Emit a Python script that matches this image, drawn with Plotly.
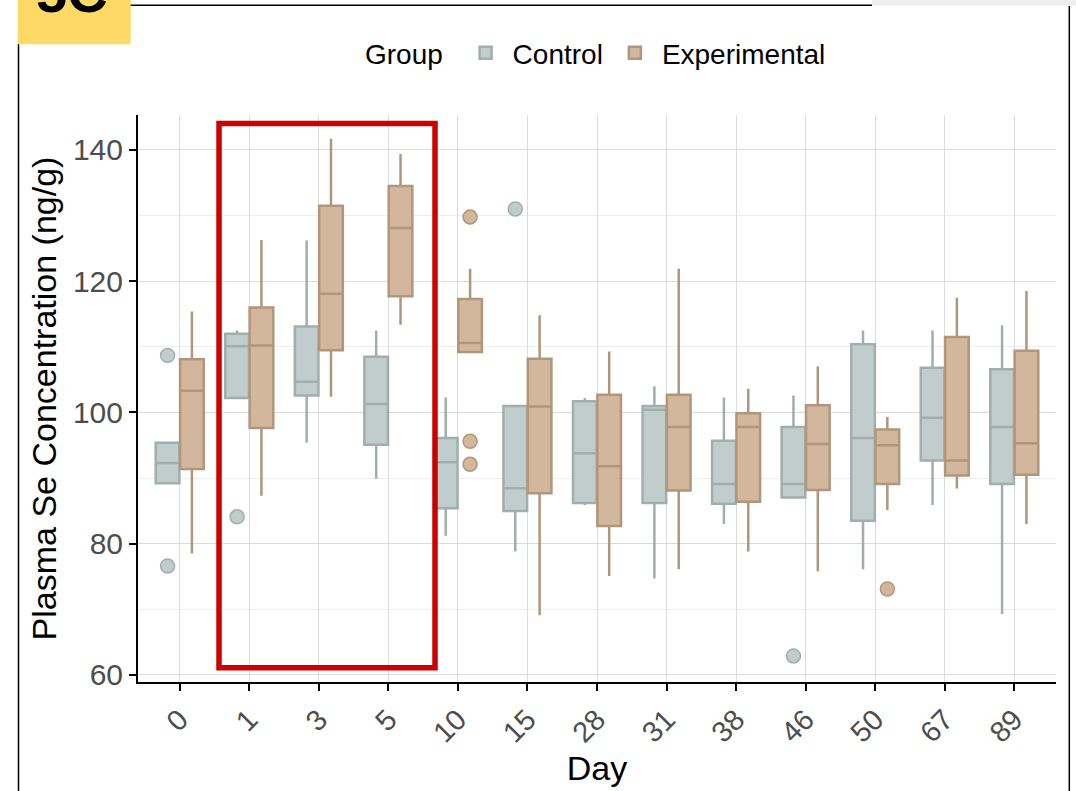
import plotly.graph_objects as go

# ---- data ----
days = ["0", "1", "3", "5", "10", "15", "28", "31", "38", "46", "50", "67", "89"]

ctrl_q1 = [89.2, 102.2, 102.6, 95.1, 85.4, 85.0, 86.2, 86.2, 86.1, 87.05, 83.5, 92.7, 89.1]
ctrl_med = [92.3, 110.1, 104.7, 101.3, 92.4, 88.45, 93.8, 100.4, 89.1, 89.1, 96.1, 99.2, 97.8]
ctrl_q3 = [95.4, 112.0, 113.1, 108.5, 96.1, 101.0, 101.7, 101.0, 95.7, 97.8, 110.4, 106.8, 106.6]
ctrl_lo = [89.2, 102.2, 95.4, 89.9, 81.2, 78.8, 85.9, 74.7, 83.0, 86.85, 76.1, 85.9, 69.3]
ctrl_hi = [95.5, 112.5, 126.2, 112.5, 102.3, 101.0, 102.2, 104.0, 102.3, 102.6, 112.5, 112.5, 113.3]
ctrl_out_day = ["0", "0", "1", "15", "46"]
ctrl_out_val = [108.7, 76.6, 84.1, 131.0, 62.9]

exp_q1 = [91.4, 97.65, 109.5, 117.7, 109.2, 87.7, 82.7, 88.1, 86.4, 88.2, 89.1, 90.4, 90.5]
exp_med = [103.3, 110.2, 118.1, 128.1, 110.6, 100.9, 91.8, 97.8, 97.8, 95.2, 95.0, 92.7, 95.3]
exp_q3 = [108.1, 116.0, 131.5, 134.5, 117.3, 108.2, 102.7, 102.7, 99.9, 101.1, 97.4, 111.5, 109.4]
exp_lo = [78.5, 87.3, 102.4, 113.35, 109.2, 69.1, 75.1, 76.1, 78.8, 75.8, 85.1, 88.4, 83.0]
exp_hi = [115.4, 126.3, 141.7, 139.4, 121.9, 114.8, 109.3, 121.9, 103.6, 107.0, 99.3, 117.5, 118.5]
exp_out_day = ["10", "10", "10", "50"]
exp_out_val = [129.8, 95.6, 92.1, 73.1]

y_ticks = [60, 80, 100, 120, 140]

# ---- styling ----
CTRL_FILL, CTRL_LINE = "#C1CDCC", "#A0AFAE"
EXP_FILL, EXP_LINE = "#D2B79D", "#B0977B"
FONT = "Liberation Sans, Arial, sans-serif"
DODGE = 0.175
BOXW = 0.34

idx = {d: i for i, d in enumerate(days)}
xc = [i - DODGE for i in range(len(days))]
xe = [i + DODGE for i in range(len(days))]

fig = go.Figure()
fig.add_trace(go.Box(
    name="Control", x=xc, q1=ctrl_q1, median=ctrl_med, q3=ctrl_q3,
    lowerfence=ctrl_lo, upperfence=ctrl_hi, width=BOXW, whiskerwidth=0,
    fillcolor=CTRL_FILL, line=dict(color=CTRL_LINE, width=2.5),
    boxpoints=False, hoverinfo="y"))
fig.add_trace(go.Box(
    name="Experimental", x=xe, q1=exp_q1, median=exp_med, q3=exp_q3,
    lowerfence=exp_lo, upperfence=exp_hi, width=BOXW, whiskerwidth=0,
    fillcolor=EXP_FILL, line=dict(color=EXP_LINE, width=2.5),
    boxpoints=False, hoverinfo="y"))
fig.add_trace(go.Scatter(
    x=[idx[d] - DODGE for d in ctrl_out_day], y=ctrl_out_val, mode="markers",
    marker=dict(size=14, color=CTRL_FILL, line=dict(color=CTRL_LINE, width=1.5)),
    showlegend=False, hoverinfo="y"))
fig.add_trace(go.Scatter(
    x=[idx[d] + DODGE for d in exp_out_day], y=exp_out_val, mode="markers",
    marker=dict(size=14, color=EXP_FILL, line=dict(color=EXP_LINE, width=1.5)),
    showlegend=False, hoverinfo="y"))

# plot area in pixels: x 138..1056, y 115..682
L, R, T, B = 138, 1056, 115, 682
W, H = R - L, B - T
def px(x):
    return (x - L) / W
def py(y):
    return (B - y) / H

shapes = [
    # highlighted days 1-5
    dict(type="rect", xref="x", yref="y", x0=0.565, x1=3.671, y0=61.1, y1=144.05,
         line=dict(color="#CC0000", width=5.5), fillcolor="rgba(0,0,0,0)", layer="above"),
    # page frame pieces of the cropped figure
    dict(type="rect", xref="paper", yref="paper", x0=px(872), x1=px(1076), y0=py(5.6), y1=py(0),
         fillcolor="#EEEEEE", line=dict(width=0), layer="below"),
    dict(type="line", xref="paper", yref="paper", x0=px(130), x1=px(872), y0=py(5.3), y1=py(5.3),
         line=dict(color="black", width=1.5)),
    dict(type="line", xref="paper", yref="paper", x0=px(18.5), x1=px(18.5), y0=py(44), y1=py(791),
         line=dict(color="black", width=1.5)),
    dict(type="line", xref="paper", yref="paper", x0=px(1069.3), x1=px(1069.3), y0=py(6), y1=py(791),
         line=dict(color="black", width=1.5)),
    dict(type="rect", xref="paper", yref="paper", x0=px(17.7), x1=px(130.7), y0=py(44.3), y1=py(-2),
         fillcolor="#FFD966", line=dict(width=0), layer="above"),
]

fig.update_layout(
    width=1076, height=791,
    margin=dict(l=L, r=1076 - R, t=T, b=791 - B),
    paper_bgcolor="white", plot_bgcolor="white",
    font=dict(family=FONT, color="black"),
    boxmode="overlay",
    showlegend=True,
    legend=dict(orientation="h", x=px(597), xanchor="center", y=py(53), yanchor="middle",
                title=dict(text="Group ", font=dict(size=28, color="black")),
                font=dict(size=28, color="black"), bgcolor="rgba(0,0,0,0)",
                itemwidth=44, tracegroupgap=0),
    shapes=shapes,
    annotations=[
        dict(text="<b>5C</b>", xref="paper", yref="paper", x=px(72), y=py(26),
             xanchor="center", yanchor="bottom", showarrow=False,
             font=dict(size=56, color="black", family=FONT)),
    ],
)

fig.update_xaxes(
    range=[-0.6, len(days) - 0.4],
    tickmode="array", tickvals=list(range(len(days))), ticktext=days,
    tickangle=-45, tickfont=dict(size=29, color="#4D4D4D"),
    ticks="outside", ticklen=7, tickwidth=2, tickcolor="black",
    showline=True, linecolor="black", linewidth=2,
    showgrid=True, gridcolor="#DCDCDC", gridwidth=1.3, zeroline=False,
    title=dict(text="Day", font=dict(size=34, color="black"), standoff=0),
)
fig.update_yaxes(
    range=[58.93, 145.33],
    tickmode="array", tickvals=y_ticks, ticktext=[str(v) for v in y_ticks],
    tickfont=dict(size=30, color="#4D4D4D"),
    ticks="outside", ticklen=7, tickwidth=2, tickcolor="black",
    showline=True, linecolor="black", linewidth=2,
    showgrid=True, gridcolor="#DCDCDC", gridwidth=1.3, zeroline=False,
    minor=dict(tickvals=[70, 90, 110, 130], showgrid=True, gridcolor="#EDEDED", gridwidth=1, ticks=""),
    title=dict(text="Plasma Se Concentration (ng/g)", font=dict(size=34, color="black"), standoff=6),
)

fig.write_html("out.html", config={"displayModeBar": False},
               post_script="document.body.style.margin='0px';")
